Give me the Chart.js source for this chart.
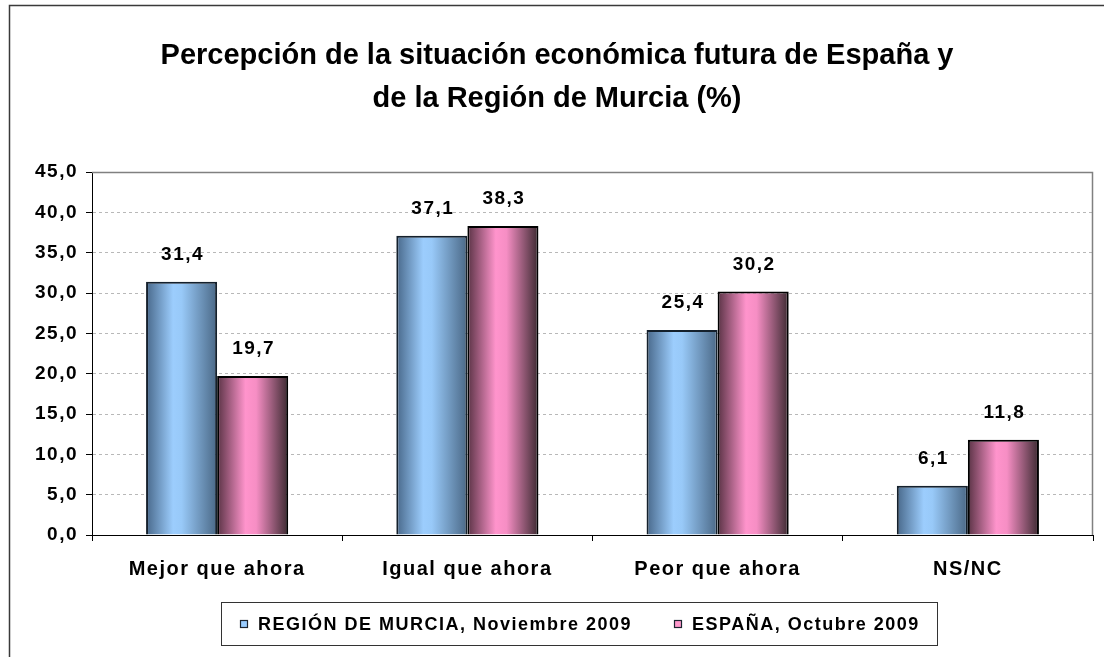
<!DOCTYPE html>
<html lang="es">
<head>
  <meta charset="UTF-8">
  <title>Percepción de la situación económica futura</title>
  <style>
    body { margin: 0; background: #fff; }
    #chart { display: block; }
  </style>
</head>
<body>
  <canvas id="chart" width="1104" height="657"></canvas>

  <script src="https://cdn.jsdelivr.net/npm/chart.js@4"></script>
  <script>
    // datos
    const categorias = ['Mejor que ahora', 'Igual que ahora', 'Peor que ahora', 'NS/NC'];
    const murcia  = [31.4, 37.1, 25.4, 6.1];
    const espana  = [19.7, 38.3, 30.2, 11.8];
    const series  = ['REGIÓN DE MURCIA, Noviembre 2009', 'ESPAÑA, Octubre 2009'];
    const tituloLineas = ['Percepción de la situación económica futura de España y', 'de la Región de Murcia (%)'];
    const yMax = 45, yPaso = 5;

    const FUENTE = 'Arial, "Liberation Sans", sans-serif';
    const CAT_PCT = 0.568;
    const ESPACIO = '1.5px';

    const degAzul = [[0, '#48688a'], [0.38, '#9ccdfd'], [0.5, '#98c9f8'], [1, '#4a6886']];
    const degRosa = [[0, '#5a3345'], [0.4, '#ff94cc'], [0.55, '#f68ec4'], [1, '#3c2a31']];

    const fmt = v => v.toFixed(1).replace('.', ',');

    function degradado(c, stops) {
      const chart = c.chart, xs = chart.scales.x;
      if (c.type !== 'data' || !xs || !chart.chartArea) return stops[1][1];
      const catW = (xs.right - xs.left) / categorias.length;
      const w = catW * CAT_PCT / 2;
      const centro = xs.getPixelForValue(c.dataIndex);
      const x0 = c.datasetIndex === 0 ? centro - w : centro;
      const g = chart.ctx.createLinearGradient(x0, 0, x0 + w, 0);
      stops.forEach(s => g.addColorStop(s[0], s[1]));
      return g;
    }

    const extras = {
      id: 'extras',
      beforeLayout(chart) { chart.ctx.letterSpacing = ESPACIO; },
      beforeDraw(chart) {
        const ctx = chart.ctx;
        ctx.save();
        ctx.fillStyle = '#fff';
        ctx.fillRect(0, 0, chart.width, chart.height);
        // marco exterior
        ctx.strokeStyle = '#3a3a3a';
        ctx.lineWidth = 1.5;
        ctx.beginPath();
        ctx.moveTo(9.5, chart.height);
        ctx.lineTo(9.5, 5.5);
        ctx.lineTo(chart.width, 5.5);
        ctx.stroke();
        // título
        ctx.fillStyle = '#000';
        ctx.font = 'bold 29px ' + FUENTE;
        ctx.letterSpacing = '0px';
        ctx.textAlign = 'center';
        ctx.textBaseline = 'middle';
        ctx.fillText(tituloLineas[0], 557, 56);
        ctx.fillText(tituloLineas[1], 557, 99);
        ctx.restore();
        chart.ctx.letterSpacing = ESPACIO;
      },
      beforeDatasetsDraw(chart) {
        const ctx = chart.ctx, a = chart.chartArea;
        ctx.save();
        ctx.strokeStyle = '#808080';
        ctx.lineWidth = 1.5;
        ctx.beginPath();
        ctx.moveTo(a.left, a.top + 0.5);
        ctx.lineTo(a.right - 0.5, a.top + 0.5);
        ctx.lineTo(a.right - 0.5, a.bottom);
        ctx.stroke();
        ctx.restore();
      },
      afterDatasetsDraw(chart) {
        const ctx = chart.ctx;
        ctx.save();
        ctx.fillStyle = '#000';
        ctx.font = 'bold 19px ' + FUENTE;
        ctx.letterSpacing = ESPACIO;
        ctx.textAlign = 'center';
        ctx.textBaseline = 'middle';
        chart.data.datasets.forEach((ds, i) => {
          chart.getDatasetMeta(i).data.forEach((el, j) => {
            ctx.fillText(fmt(ds.data[j]), el.x + 1, el.y - 27);
          });
        });
        ctx.restore();
      },
      afterDraw(chart) {
        // leyenda
        const ctx = chart.ctx;
        const caja = { x: 221.5, y: 602.5, w: 716, h: 43 };
        ctx.save();
        ctx.fillStyle = '#fff';
        ctx.fillRect(caja.x, caja.y, caja.w, caja.h);
        ctx.strokeStyle = '#333';
        ctx.lineWidth = 1;
        ctx.strokeRect(caja.x, caja.y, caja.w, caja.h);
        ctx.font = 'bold 18px ' + FUENTE;
        ctx.letterSpacing = ESPACIO;
        ctx.textBaseline = 'middle';
        ctx.textAlign = 'left';
        const cy = caja.y + caja.h / 2;
        const marcas = ['#99ccff', '#ff99cc'];
        const posX = [240, 674];
        series.forEach((s, i) => {
          ctx.fillStyle = marcas[i];
          ctx.fillRect(posX[i], cy - 4, 8, 8);
          ctx.strokeStyle = '#1c2430';
          ctx.lineWidth = 1.2;
          ctx.strokeRect(posX[i] + 0.5, cy - 3.5, 7, 7);
          ctx.fillStyle = '#000';
          ctx.fillText(s, posX[i] + 18, cy + 1);
        });
        ctx.restore();
        chart.ctx.letterSpacing = '0px';
      }
    };

    new Chart(document.getElementById('chart'), {
      type: 'bar',
      data: {
        labels: categorias,
        datasets: [
          { label: series[0], data: murcia, backgroundColor: c => degradado(c, degAzul),
            borderColor: '#14202c', borderWidth: 2 },
          { label: series[1], data: espana, backgroundColor: c => degradado(c, degRosa),
            borderColor: '#000', borderWidth: 2 }
        ]
      },
      options: {
        responsive: false,
        animation: false,
        events: [],
        categoryPercentage: CAT_PCT,
        barPercentage: 1.0,
        layout: { padding: { top: 172, right: 11, bottom: 60, left: 0 } },
        plugins: {
          legend: { display: false },
          title: { display: false },
          tooltip: { enabled: false }
        },
        scales: {
          x: {
            grid: { drawOnChartArea: false, drawTicks: true, tickLength: 6, tickColor: '#000', offset: true },
            border: { color: '#000', width: 1 },
            ticks: { color: '#000', padding: 16, maxRotation: 0,
                     font: { family: FUENTE, size: 20, weight: 'bold' } }
          },
          y: {
            min: 0, max: yMax,
            afterFit: s => { s.width = 92; },
            grid: { color: '#b8b8b8', lineWidth: 1, tickLength: 6, tickColor: '#000', tickBorderDash: [] },
            border: { color: '#000', width: 1, dash: [3, 3] },
            ticks: { stepSize: yPaso, color: '#000', padding: 8,
                     font: { family: FUENTE, size: 19, weight: 'bold' },
                     callback: v => fmt(v) }
          }
        }
      },
      plugins: [extras]
    });
  </script>
</body>
</html>
